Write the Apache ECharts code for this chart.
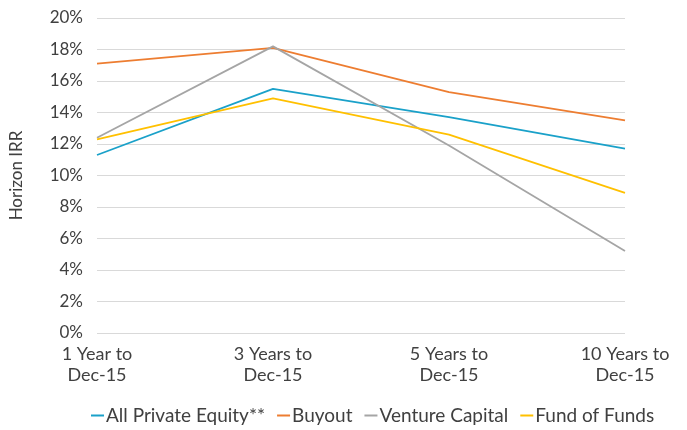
<!DOCTYPE html>
<html>
<head>
<meta charset="utf-8">
<script src="https://cdn.jsdelivr.net/npm/echarts@6/dist/echarts.min.js"></script>
<style>
  html, body { margin: 0; padding: 0; background: #fff; }
  #chart { width: 687px; height: 430px; }
</style>
</head>
<body>
<div id="chart"></div>
<script>
// horizon periods
var categories = ["1 Year to\nDec-15", "3 Years to\nDec-15", "5 Years to\nDec-15", "10 Years to\nDec-15"];

// horizon IRR, percent
var allPrivateEquity = [11.3, 15.5, 13.7, 11.7];
var buyout = [17.1, 18.1, 15.3, 13.5];
var ventureCapital = [12.4, 18.2, 11.9, 5.2];
var fundOfFunds = [12.3, 14.9, 12.6, 8.9];

var seriesNames = ["All Private Equity**", "Buyout", "Venture Capital", "Fund of Funds"];
var seriesColors = ["#1aa1c9", "#ed7d31", "#a5a5a5", "#ffc000"];
var seriesData = [allPrivateEquity, buyout, ventureCapital, fundOfFunds];

var font = "Lato, 'Open Sans', sans-serif";
var textColor = "#404040";

var chart = echarts.init(document.getElementById("chart"));

chart.setOption({
  animation: false,
  color: seriesColors,
  grid: { left: 96, right: 62, top: 18, bottom: 97 },
  legend: {
    bottom: 0,
    left: 86,
    icon: "rect",
    itemWidth: 13,
    itemHeight: 2,
    itemGap: 12,
    textStyle: { color: textColor, fontSize: 19, fontFamily: font, padding: [0, 0, 0, -3] },
    data: seriesNames
  },
  xAxis: {
    type: "category",
    boundaryGap: false,
    data: categories,
    axisLine: { show: false },
    axisTick: { show: false },
    axisLabel: {
      color: textColor,
      fontSize: 18,
      fontFamily: font,
      lineHeight: 21,
      margin: 11,
      interval: 0
    }
  },
  yAxis: {
    type: "value",
    min: 0,
    max: 20,
    interval: 2,
    name: "Horizon IRR",
    nameLocation: "middle",
    nameGap: 72,
    nameTextStyle: { color: textColor, fontSize: 17, fontFamily: font },
    axisLine: { show: false },
    axisTick: { show: false },
    axisLabel: {
      color: textColor,
      fontSize: 17,
      fontFamily: font,
      margin: 14,
      formatter: function (v) { return v + "%"; }
    },
    splitLine: { lineStyle: { color: "#d9d9d9", width: 1 } }
  },
  series: seriesNames.map(function (name, i) {
    return {
      name: name,
      type: "line",
      data: seriesData[i],
      showSymbol: false,
      symbol: "none",
      lineStyle: { width: 1.8, color: seriesColors[i] }
    };
  })
});
</script>
</body>
</html>
